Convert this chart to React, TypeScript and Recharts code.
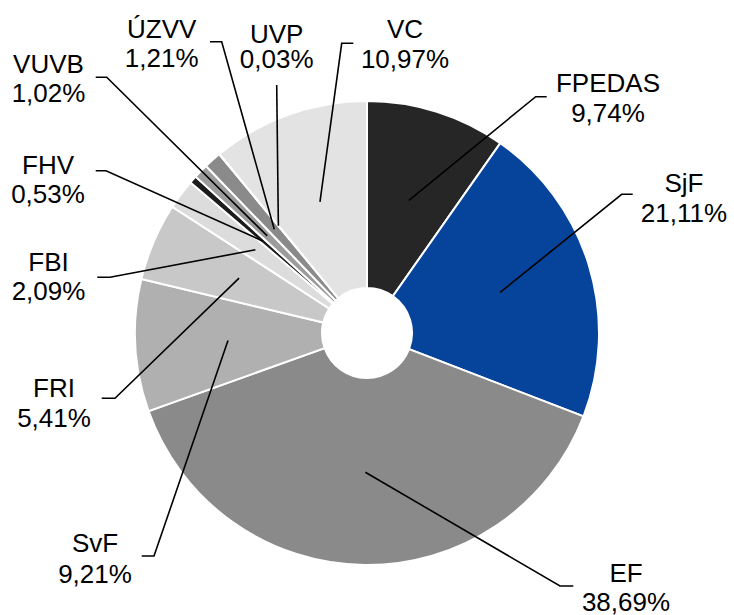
import React from 'react';
import { PieChart, Pie, Cell } from 'recharts';

const categories = ['FPEDAS', 'SjF', 'EF', 'SvF', 'FRI', 'FBI', 'FHV', 'VUVB', 'ÚZVV', 'UVP', 'VC'];
const shares = [9.74, 21.11, 38.69, 9.21, 5.41, 2.09, 0.53, 1.02, 1.21, 0.03, 10.97];
const sliceColors = ['#262626', '#05449a', '#8a8a8a', '#b0b0b0', '#c8c8c8', '#dcdcdc', '#1c1c1c', '#9c9c9c', '#8a8a8a', '#b8b8b8', '#e3e3e3'];

// label layout (elbow point, end of short horizontal segment, text centre and baselines)
const labelLayout = [
  { ex: 535.7, ey: 96.7, hx: 546.7, tx: 608, y1: 91.5, y2: 121.7 },
  { ex: 621.7, ey: 194.3, hx: 632.7, tx: 684, y1: 191.7, y2: 221.7 },
  { ex: 560, ey: 586, hx: 573.3, tx: 626, y1: 581.7, y2: 610.7 },
  { ex: 154, ey: 556, hx: 141.7, tx: 95, y1: 551.7, y2: 582.7 },
  { ex: 115, ey: 398.3, hx: 101.7, tx: 54, y1: 396.7, y2: 426.7 },
  { ex: 110, ey: 277.3, hx: 97.3, tx: 48.5, y1: 270.7, y2: 300 },
  { ex: 106, ey: 170.7, hx: 95.7, tx: 48, y1: 174, y2: 202.7 },
  { ex: 106.7, ey: 77.3, hx: 95.7, tx: 48.5, y1: 72.7, y2: 101.7 },
  { ex: 221.7, ey: 41.7, hx: 210, tx: 161.7, y1: 38.3, y2: 66.7 },
  { ex: 276.7, ey: 85, hx: 276.7, tx: 276.7, y1: 43.3, y2: 68.3 },
  { ex: 341.7, ey: 43.3, hx: 353.3, tx: 405, y1: 38.3, y2: 67.5 },
];

const data = categories.map((name, i) => ({ name, value: shares[i] }));

const FONT = '"Liberation Sans", Arial, Helvetica, sans-serif';

const renderLabel = (props: any) => {
  const { cx, cy, midAngle, outerRadius, index } = props;
  const RAD = Math.PI / 180;
  const r = outerRadius * 0.6;
  const sx = cx + r * Math.cos(-midAngle * RAD);
  const sy = cy + r * Math.sin(-midAngle * RAD);
  const L = labelLayout[index];
  const pct = shares[index].toFixed(2).replace('.', ',') + '%';
  return (
    <g key={`lbl-${index}`}>
      <polyline
        points={`${sx},${sy} ${L.ex},${L.ey} ${L.hx},${L.ey}`}
        fill="none"
        stroke="#000"
        strokeWidth={1.6}
      />
      <text textAnchor="middle" fontSize={26} fontFamily={FONT} fill="#000">
        <tspan x={L.tx} y={L.y1}>{categories[index]}</tspan>
        <tspan x={L.tx} y={L.y2}>{pct}</tspan>
      </text>
    </g>
  );
};

export default function App() {
  return (
    <div style={{ position: 'absolute', left: 0, top: 0, width: 734, height: 615, background: '#fff' }}>
      <PieChart width={734} height={615} margin={{ top: 0, right: 0, bottom: 0, left: 0 }}>
        <Pie
          data={data}
          dataKey="value"
          nameKey="name"
          cx={367}
          cy={333}
          innerRadius={45}
          outerRadius={232}
          startAngle={90}
          endAngle={-270}
          stroke="#ffffff"
          strokeWidth={2}
          label={renderLabel}
          labelLine={false}
          isAnimationActive={false}
        >
          {data.map((d, i) => (
            <Cell key={d.name} fill={sliceColors[i]} />
          ))}
        </Pie>
      </PieChart>
    </div>
  );
}
